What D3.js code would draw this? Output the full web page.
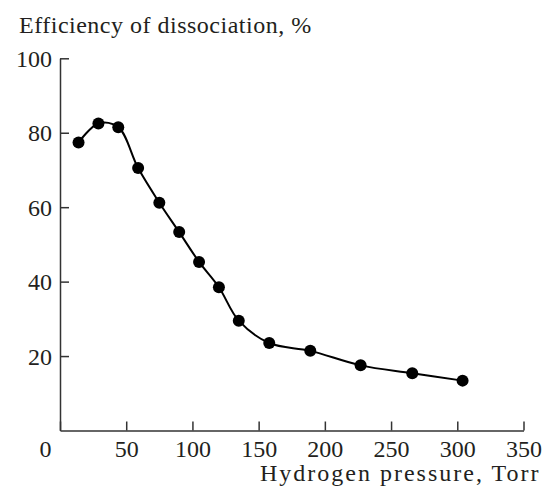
<!DOCTYPE html>
<html lang="en">
  <head>
    <meta charset="UTF-8" />
    <title>dissociation efficiency</title>
    <script src="https://cdn.jsdelivr.net/npm/d3@7"></script>
    <style>
      body {
        margin: 0;
        background: white;
      }
      text {
        font-family: "Liberation Serif", "Times New Roman", serif;
        fill: #231f20;
      }
    </style>
  </head>
  <body>
    <div class="chart"></div>

    <script>
      // values
      const pressure = [14, 29, 44, 59, 75, 90, 105, 120, 135, 158, 189, 227, 266, 304];
      const efficiency = [77.4, 82.5, 81.5, 70.5, 61.2, 53.3, 45.3, 38.5, 29.5, 23.5, 21.4, 17.5, 15.4, 13.4];
      const xTicks = [0, 50, 100, 150, 200, 250, 300, 350];
      const yTicks = [20, 40, 60, 80, 100];

      const width = 546;
      const height = 489;
      const fontSize = 24;

      const data = pressure.map((p, i) => ({ x: p, y: efficiency[i] }));

      const svg = d3
        .select(".chart")
        .append("svg")
        .attr("width", width)
        .attr("height", height)
        .attr("viewBox", [0, 0, width, height]);

      const xScale = d3.scaleLinear().domain([0, 350]).range([60, 523.5]);
      const yScale = d3.scaleLinear().domain([0, 100]).range([430.5, 58.3]);

      // x axis, ticks pointing inward
      const xAxis = d3
        .axisBottom(xScale)
        .tickValues(xTicks)
        .tickSizeInner(-9)
        .tickSizeOuter(0)
        .tickPadding(0);

      const gx = svg
        .append("g")
        .attr("transform", `translate(0, ${yScale(0)})`)
        .call(xAxis);

      gx.selectAll("text")
        .attr("y", 26)
        .attr("dy", null)
        .style("font-size", fontSize + "px")
        .attr("dx", (d) => (d === 0 ? -15 : 0));

      // y axis
      const yAxis = d3
        .axisLeft(yScale)
        .tickValues(yTicks)
        .tickSizeInner(-9)
        .tickSizeOuter(0)
        .tickPadding(8);

      const gy = svg
        .append("g")
        .attr("transform", `translate(${xScale(0)}, 0)`)
        .call(yAxis);

      gy.selectAll("text").style("font-size", fontSize + "px").attr("dy", "0.34em");

      svg.selectAll(".domain, .tick line")
        .attr("stroke", "#333")
        .attr("stroke-width", 1.5);

      // smooth curve through the points
      const line = d3
        .line()
        .x((d) => xScale(d.x))
        .y((d) => yScale(d.y))
        .curve(d3.curveCatmullRom.alpha(0.5));

      svg
        .append("path")
        .datum(data)
        .attr("fill", "none")
        .attr("stroke", "black")
        .attr("stroke-width", 2)
        .attr("d", line);

      svg
        .append("g")
        .selectAll("circle")
        .data(data)
        .enter()
        .append("circle")
        .attr("cx", (d) => xScale(d.x))
        .attr("cy", (d) => yScale(d.y))
        .attr("r", 6)
        .attr("fill", "black");

      // axis titles
      svg
        .append("text")
        .attr("x", 19)
        .attr("y", 33)
        .style("font-size", fontSize + "px")
        .style("letter-spacing", "0.5px")
        .text("Efficiency of dissociation, %");

      svg
        .append("text")
        .attr("x", 260)
        .attr("y", 481)
        .style("font-size", fontSize + "px")
        .style("letter-spacing", "2px")
        .text("Hydrogen pressure, Torr");
    </script>
  </body>
</html>
